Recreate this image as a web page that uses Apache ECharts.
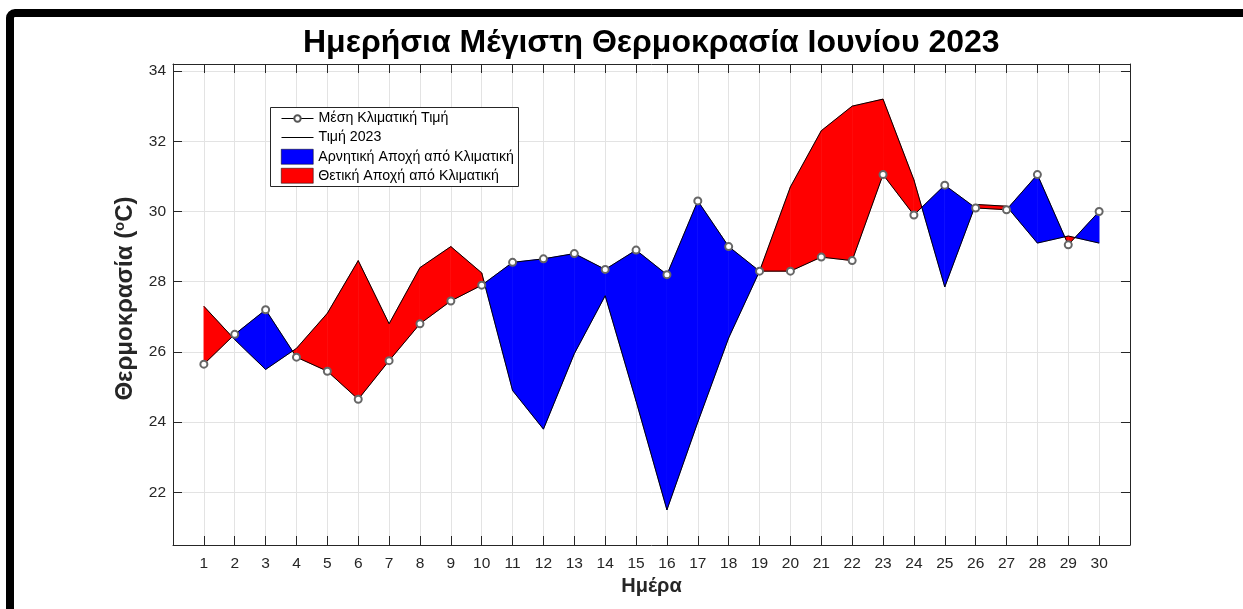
<!DOCTYPE html>
<html>
<head>
<meta charset="utf-8">
<script src="https://cdn.jsdelivr.net/npm/echarts@6/dist/echarts.min.js"></script>
<style>
html,body{margin:0;padding:0;background:#fff;}
#chart{width:1243px;height:609px;}
</style>
</head>
<body>
<div id="chart"></div>
<script>
const days = [1,2,3,4,5,6,7,8,9,10,11,12,13,14,15,16,17,18,19,20,21,22,23,24,25,26,27,28,29,30];
const climValues = [25.65,26.5,27.2,25.85,25.45,24.65,25.75,26.8,27.45,27.9,28.55,28.65,28.8,28.35,28.9,28.2,30.3,29.0,28.3,28.3,28.7,28.6,31.05,29.9,30.75,30.1,30.05,31.05,29.05,30.0];
const values2023 = [27.3,26.35,25.5,26.1,27.1,28.6,26.8,28.4,29.0,28.25,24.9,23.8,25.95,27.6,24.6,21.5,24.0,26.4,28.3,30.7,32.3,33.0,33.2,30.9,27.85,30.2,30.15,29.1,29.3,29.1];
const yTicks = [22,24,26,28,30,32,34];
const titleText = 'Ημερήσια Μέγιστη Θερμοκρασία Ιουνίου 2023';
const nameClim = 'Μέση Κλιματική Τιμή';
const name2023 = 'Τιμή 2023';
const nameNeg = 'Αρνητική Αποχή από Κλιματική';
const namePos = 'Θετική Αποχή από Κλιματική';

const segments = [];
for (let i = 0; i < days.length - 1; i++) {
  segments.push([days[i], climValues[i], values2023[i], days[i+1], climValues[i+1], values2023[i+1]]);
}

const FONT = "'Liberation Sans', Arial, Helvetica, sans-serif";
const AX = '#262626';

function makeRender(sign, color) {
  return function (params, api) {
    const x0 = api.value(0), c0 = api.value(1), t0 = api.value(2);
    const x1 = api.value(3), c1 = api.value(4), t1 = api.value(5);
    const d0 = t0 - c0, d1 = t1 - c1;
    const polys = [];
    if (d0 * d1 >= 0) {
      const s = d0 + d1;
      if ((sign > 0 && s > 0) || (sign < 0 && s < 0)) polys.push([[x0,c0],[x1,c1],[x1,t1],[x0,t0]]);
    } else {
      const f = d0 / (d0 - d1);
      const xc = x0 + f * (x1 - x0), yc = c0 + f * (c1 - c0);
      if ((d0 > 0) === (sign > 0)) polys.push([[x0,c0],[xc,yc],[x0,t0]]);
      if ((d1 > 0) === (sign > 0)) polys.push([[xc,yc],[x1,c1],[x1,t1]]);
    }
    return {
      type: 'group',
      children: polys.map(p => ({
        type: 'polygon',
        shape: { points: p.map(pt => api.coord(pt)) },
        style: { fill: color, stroke: color, lineWidth: 0.6 }
      }))
    };
  };
}

const chart = echarts.init(document.getElementById('chart'), null, { renderer: 'canvas' });

const tickStyle = { show: true, inside: true, length: 9, lineStyle: { color: AX, width: 1 } };
const axisLineStyle = { show: true, onZero: false, lineStyle: { color: AX, width: 1 } };
const legendText = { fontFamily: FONT, fontSize: 14.2, color: '#000' };

chart.setOption({
  animation: false,
  backgroundColor: '#fff',
  title: {
    text: titleText,
    left: 303,
    top: 27,
    padding: 0,
    textStyle: { fontFamily: FONT, fontSize: 32, fontWeight: 'bold', color: '#000' }
  },
  graphic: [
    {
      type: 'rect', z: 3,
      shape: { x: 270.5, y: 107.5, width: 248, height: 79 },
      style: { fill: '#fff', stroke: AX, lineWidth: 1 }
    },
    {
      type: 'rect', z: 10,
      shape: { x: 10, y: 13, width: 1245, height: 700, r: 5 },
      style: { fill: 'none', stroke: '#000', lineWidth: 8 }
    }
  ],
  legend: [
    {
      orient: 'vertical', left: 281, top: 111.5, padding: 0,
      itemWidth: 32, itemHeight: 8,
      textStyle: legendText,
      lineStyle: { width: 1, color: '#000' },
      itemStyle: { color: '#555', borderWidth: 0.8 },
      data: [nameClim]
    },
    {
      orient: 'vertical', left: 281, top: 130.5, padding: 0,
      itemWidth: 32, itemHeight: 1,
      textStyle: legendText,
      lineStyle: { width: 1, color: '#000' },
      itemStyle: { color: '#000' },
      data: [name2023]
    },
    {
      orient: 'vertical', left: 281, top: 149, padding: 0,
      itemWidth: 32, itemHeight: 15, itemGap: 3.5,
      textStyle: legendText,
      data: [
        { name: nameNeg, icon: 'rect', itemStyle: { color: '#0000ff', borderColor: '#000', borderWidth: 0.5 } },
        { name: namePos, icon: 'rect', itemStyle: { color: '#ff0000', borderColor: '#000', borderWidth: 0.5 } }
      ]
    }
  ],
  grid: { left: 173, right: 113, top: 64, bottom: 64, containLabel: false, show: false },
  xAxis: [
    {
      type: 'value', min: 0, max: 31, interval: 1, position: 'bottom',
      name: 'Ημέρα', nameLocation: 'middle', nameGap: 30,
      nameTextStyle: { fontFamily: FONT, fontSize: 20, fontWeight: 'bold', color: AX },
      axisLine: axisLineStyle,
      axisTick: tickStyle,
      axisLabel: {
        fontFamily: FONT, fontSize: 15.5, color: AX, margin: 11,
        formatter: v => (v >= 1 && v <= 30) ? String(v) : ''
      },
      splitLine: { show: true, lineStyle: { color: '#e3e3e3', width: 1 } }
    },
    {
      type: 'value', min: 0, max: 31, interval: 1, position: 'top',
      axisLine: axisLineStyle, axisTick: tickStyle,
      axisLabel: { show: false }, splitLine: { show: false }
    }
  ],
  yAxis: [
    {
      type: 'value', min: 20.5, max: 34.2, position: 'left',
      name: 'Θερμοκρασία ({sup|o}C)', nameLocation: 'middle', nameGap: 28, nameRotate: 90,
      nameTextStyle: {
        fontFamily: FONT, fontSize: 24, fontWeight: 'bold', color: AX,
        padding: [0, 0, 0, 12],
        rich: { sup: { fontFamily: FONT, fontSize: 15, fontWeight: 'bold', color: AX, padding: [0, 0, 12, 0] } }
      },
      axisLine: axisLineStyle,
      axisTick: Object.assign({}, tickStyle, { customValues: yTicks }),
      axisLabel: { fontFamily: FONT, fontSize: 15.5, color: AX, margin: 7, customValues: yTicks },
      splitLine: { show: true, lineStyle: { color: '#e3e3e3', width: 1 } }
    },
    {
      type: 'value', min: 20.5, max: 34.2, position: 'right',
      axisLine: axisLineStyle,
      axisTick: Object.assign({}, tickStyle, { customValues: yTicks }),
      axisLabel: { show: false, customValues: yTicks },
      splitLine: { show: false }
    }
  ],
  series: [
    {
      name: nameNeg, type: 'custom', xAxisIndex: 0, yAxisIndex: 0, z: 2,
      itemStyle: { color: '#0000ff' },
      renderItem: makeRender(-1, '#0000ff'),
      encode: { x: [0, 3], y: [1, 2, 4, 5] },
      data: segments, clip: true
    },
    {
      name: namePos, type: 'custom', xAxisIndex: 0, yAxisIndex: 0, z: 2,
      itemStyle: { color: '#ff0000' },
      renderItem: makeRender(1, '#ff0000'),
      encode: { x: [0, 3], y: [1, 2, 4, 5] },
      data: segments, clip: true
    },
    {
      name: name2023, type: 'line', z: 3,
      data: days.map((d, i) => [d, values2023[i]]),
      symbol: 'none',
      lineStyle: { color: '#000', width: 1 },
      itemStyle: { color: '#000' }
    },
    {
      name: nameClim, type: 'line', z: 4,
      data: days.map((d, i) => [d, climValues[i]]),
      symbol: 'emptyCircle', symbolSize: 7,
      lineStyle: { color: '#000', width: 1 },
      itemStyle: { color: '#666', borderWidth: 0.8 }
    }
  ]
});
</script>
</body>
</html>
